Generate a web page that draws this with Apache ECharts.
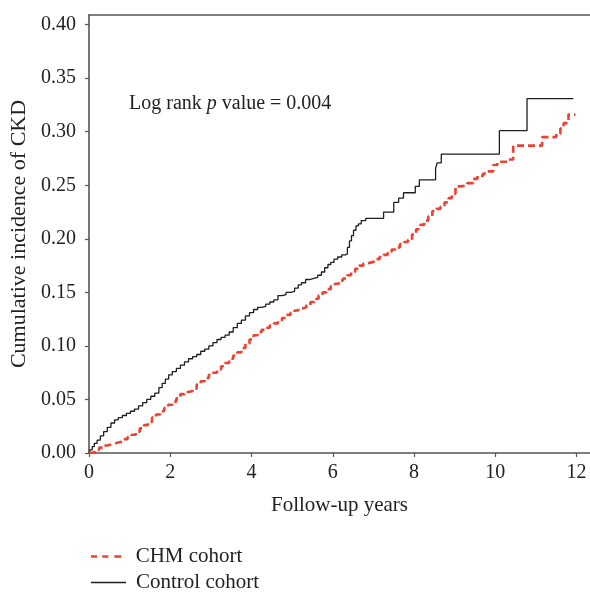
<!DOCTYPE html>
<html>
<head>
<meta charset="utf-8">
<script src="https://cdn.jsdelivr.net/npm/echarts@6/dist/echarts.min.js"></script>
<style>html,body{margin:0;padding:0;background:#fff}#c{width:590px;height:592px}</style>
</head>
<body>
<div id="c"></div>
<script>
// Cumulative incidence step curves, [year, value]
const controlCohort = [
  [0,0],[0.03,0.003],[0.08,0.006],[0.13,0.009],[0.2,0.012],[0.28,0.016],[0.36,0.020],[0.45,0.024],
  [0.54,0.028],[0.63,0.031],[0.72,0.033],[0.82,0.035],[0.92,0.037],[1.02,0.039],[1.12,0.041],
  [1.22,0.044],[1.32,0.047],[1.42,0.050],[1.52,0.053],[1.62,0.056],[1.72,0.061],[1.8,0.065],
  [1.88,0.069],[1.96,0.073],[2.05,0.076],[2.15,0.079],[2.25,0.082],[2.35,0.085],[2.45,0.088],
  [2.55,0.090],[2.65,0.092],[2.75,0.095],[2.85,0.097],[2.95,0.100],[3.05,0.103],[3.15,0.106],
  [3.25,0.108],[3.35,0.110],[3.45,0.113],[3.55,0.117],[3.65,0.121],[3.75,0.124],[3.85,0.128],
  [3.95,0.131],[4.05,0.134],[4.15,0.136],[4.25,0.137],[4.35,0.139],[4.45,0.141],[4.55,0.143],
  [4.65,0.147],[4.75,0.148],[4.85,0.150],[4.96,0.151],[5.06,0.154],[5.15,0.157],[5.23,0.159],
  [5.33,0.162],[5.43,0.163],[5.53,0.164],[5.63,0.166],[5.72,0.169],[5.8,0.173],[5.88,0.176],
  [5.95,0.178],[6.03,0.181],[6.12,0.183],[6.22,0.185],[6.31,0.186],[6.36,0.192],[6.41,0.198],
  [6.46,0.203],[6.51,0.208],[6.57,0.212],[6.63,0.214],[6.7,0.217],[6.81,0.219],
  [7.25,0.225],[7.5,0.234],[7.62,0.238],[7.74,0.243],[8.03,0.249],[8.13,0.255],[8.53,0.266],
  [8.57,0.271],[8.67,0.279],[10.1,0.301],[10.78,0.331],[11.92,0.331]
];
const chmCohort = [
  [0,0],[0.05,0.001],[0.15,0.003],[0.25,0.005],[0.35,0.007],[0.45,0.008],[0.55,0.009],[0.65,0.010],
  [0.75,0.011],[0.85,0.013],[0.95,0.015],[1.05,0.017],[1.15,0.020],[1.25,0.023],[1.35,0.026],
  [1.45,0.029],[1.55,0.033],[1.65,0.036],[1.75,0.039],[1.85,0.042],[1.95,0.045],[2.05,0.048],
  [2.15,0.051],[2.25,0.055],[2.35,0.057],[2.45,0.058],[2.55,0.060],[2.65,0.064],[2.75,0.067],
  [2.85,0.070],[2.95,0.073],[3.05,0.075],[3.15,0.078],[3.25,0.081],[3.35,0.084],[3.45,0.088],
  [3.55,0.091],[3.65,0.094],[3.75,0.098],[3.85,0.102],[3.95,0.106],[4.05,0.110],[4.15,0.113],
  [4.25,0.115],[4.35,0.117],[4.45,0.119],[4.55,0.121],[4.65,0.124],[4.75,0.126],[4.85,0.129],
  [4.96,0.131],[5.06,0.133],[5.15,0.135],[5.25,0.136],[5.35,0.138],[5.45,0.141],[5.55,0.144],
  [5.65,0.147],[5.75,0.150],[5.85,0.153],[5.95,0.156],[6.05,0.158],[6.15,0.161],[6.25,0.163],
  [6.35,0.166],[6.45,0.169],[6.55,0.172],[6.65,0.175],[6.75,0.177],[6.85,0.178],[6.95,0.179],
  [7.05,0.181],[7.15,0.183],[7.25,0.185],[7.35,0.188],[7.45,0.190],[7.55,0.192],[7.65,0.195],
  [7.75,0.197],[7.85,0.199],[7.95,0.204],[8.05,0.209],[8.15,0.213],[8.25,0.217],[8.35,0.221],
  [8.45,0.226],[8.55,0.228],[8.65,0.230],[8.75,0.234],[8.85,0.238],[8.93,0.242],[9.02,0.249],
  [9.15,0.250],[9.31,0.252],[9.45,0.256],[9.56,0.259],[9.7,0.261],[9.8,0.263],[9.95,0.269],
  [10.05,0.272],[10.3,0.274],[10.44,0.287],[11.15,0.295],[11.5,0.298],[11.6,0.303],
  [11.68,0.308],[11.8,0.316],[11.97,0.316]
];
const seriesNames = ['CHM cohort', 'Control cohort'];
const xTickInterval = 2;
const yTickInterval = 0.05;
const pValueText = '0.004';

const FONT = 'Liberation Serif';
const RED = '#ee4130';
const BLACK = '#1e1e1e';
const chart = echarts.init(document.getElementById('c'));
const legendBase = {
  left: 86, itemWidth: 35, itemGap: 0,
  itemStyle: { borderWidth: 0 }
};
const legendText = (pad) => ({ fontFamily: FONT, fontSize: 21, color: '#222', padding: [0, 0, 0, pad] });
chart.setOption({
  animation: false,
  backgroundColor: '#fff',
  textStyle: { fontFamily: FONT },
  title: {
    text: '{a|Log rank }{i|p}{a| value = ' + pValueText + '}',
    left: 124, top: 89,
    textStyle: {
      rich: {
        a: { fontFamily: FONT, fontSize: 20, color: '#222', fontWeight: 'normal' },
        i: { fontFamily: FONT, fontSize: 20, color: '#222', fontStyle: 'italic', fontWeight: 'normal' }
      }
    }
  },
  legend: [
    Object.assign({}, legendBase, {
      top: 541, itemHeight: 2.6, textStyle: legendText(7),
      data: [{ name: seriesNames[0], icon: 'path://M0,0h7v3h-7z M13,0h7v3h-7z M27,0h8v3h-8z' }]
    }),
    Object.assign({}, legendBase, {
      top: 567, itemHeight: 1.6, textStyle: legendText(5),
      data: [{ name: seriesNames[1], icon: 'rect' }]
    })
  ],
  grid: { left: 88, right: 0, top: 15, bottom: 139, containLabel: false },
  xAxis: [{
    type: 'value', min: 0, max: 12.33, interval: xTickInterval,
    name: 'Follow-up years', nameLocation: 'middle', nameGap: 42,
    nameTextStyle: { fontFamily: FONT, fontSize: 21, color: '#222' },
    axisLine: { show: true, lineStyle: { color: '#555', width: 1.6 } },
    axisTick: { show: true, length: 4, lineStyle: { color: '#555', width: 1.2 } },
    axisLabel: { fontFamily: FONT, fontSize: 20, color: '#222', margin: 10, showMaxLabel: false },
    splitLine: { show: false }
  }, {
    type: 'value', min: 0, max: 12.33, position: 'top',
    axisLine: { show: true, onZero: false, lineStyle: { color: '#555', width: 1.6 } },
    axisTick: { show: false }, axisLabel: { show: false }, splitLine: { show: false }
  }],
  yAxis: {
    type: 'value', min: 0, max: 0.409, interval: yTickInterval,
    name: 'Cumulative incidence of CKD', nameLocation: 'middle', nameGap: 59,
    nameTextStyle: { fontFamily: FONT, fontSize: 22, color: '#222' },
    axisLine: { show: true, lineStyle: { color: '#555', width: 1.6 } },
    axisTick: { show: true, length: 4, lineStyle: { color: '#555', width: 1.2 } },
    axisLabel: { fontFamily: FONT, fontSize: 20, color: '#222', margin: 13, showMaxLabel: false,
      formatter: v => v.toFixed(2) },
    splitLine: { show: false }
  },
  series: [{
    name: seriesNames[0], type: 'line', step: 'end', data: chmCohort,
    symbol: 'none', z: 3,
    lineStyle: { color: RED, width: 2.6, type: [7, 4] },
    itemStyle: { color: RED }
  }, {
    name: seriesNames[1], type: 'line', step: 'end', data: controlCohort,
    symbol: 'none', z: 2,
    lineStyle: { color: BLACK, width: 1.3 },
    itemStyle: { color: BLACK }
  }]
});
</script>
</body>
</html>
